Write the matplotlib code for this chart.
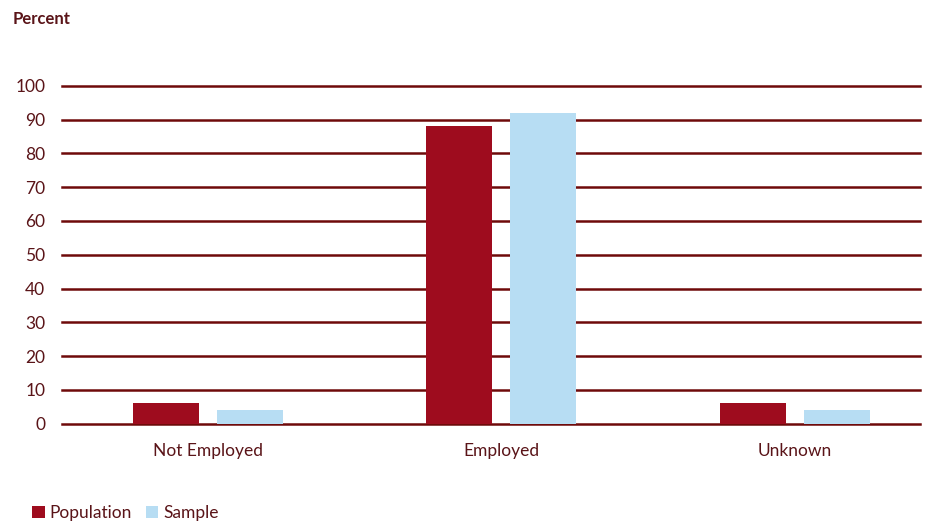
import matplotlib
matplotlib.use("Agg")
import matplotlib.pyplot as plt
import numpy as np

# Employment status, population vs sample (percent)
categories = ["Not Employed", "Employed", "Unknown"]
population = [6, 88, 6]
sample = [4, 92, 4]
yticks = list(range(0, 101, 10))

DARK_RED = "#9e0c1e"
LIGHT_BLUE = "#b7ddf3"
GRID = "#6e0a0a"
TEXT = "#5a1418"

plt.rcParams["font.family"] = ["Lato", "DejaVu Sans"]

fig = plt.figure(figsize=(9.34, 5.23), dpi=100)
ax = fig.add_axes([0.0664, 0.1902, 0.9186, 0.6454])

x = np.arange(len(categories))
w = 0.225
off = 0.143
ax.bar(x - off, population, w, color=DARK_RED, label="Population", zorder=3)
ax.bar(x + off, sample, w, color=LIGHT_BLUE, label="Sample", zorder=3)

ax.set_ylim(0, 100)
ax.set_xlim(-0.497, 2.426)
ax.set_yticks(yticks)
ax.set_xticks(x)
ax.set_xticklabels(categories)
# gridlines drawn by hand so the 0 and 100 lines keep full thickness
for y in yticks:
    ax.axhline(y, color=GRID, lw=1.8, zorder=2, clip_on=False)

for s in ax.spines.values():
    s.set_visible(False)
ax.tick_params(axis="both", length=0, labelsize=12.5, colors=TEXT)
ax.tick_params(axis="y", pad=12)
ax.tick_params(axis="x", pad=14)

fig.text(0.013, 0.963, "Percent", fontsize=12, fontweight="bold",
         color=TEXT, va="center", ha="left")

leg = fig.legend(loc="lower left", bbox_to_anchor=(0.018, -0.027), ncol=2,
                 frameon=False, fontsize=12.5, handlelength=0.7,
                 handleheight=0.7, handletextpad=0.3, columnspacing=0.8)
for t in leg.get_texts():
    t.set_color(TEXT)

fig.savefig("out.png", dpi=100)
